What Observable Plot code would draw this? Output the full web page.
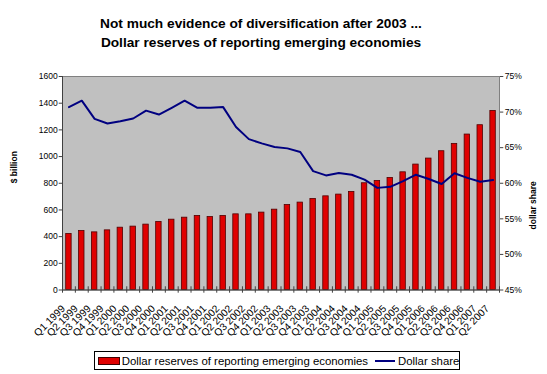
<!DOCTYPE html>
<html><head><meta charset="utf-8">
<script src="https://cdn.jsdelivr.net/npm/d3@7"></script>
<script src="https://cdn.jsdelivr.net/npm/@observablehq/plot@0.6"></script>
<style>
body{margin:0;background:#fff;font-family:"Liberation Sans",Arial,sans-serif;}
#wrap{position:relative;width:547px;height:374px;overflow:hidden;background:#fff}
#wrap svg{position:absolute;left:0;top:0}
.title{position:absolute;left:0;width:522px;top:14px;text-align:center;font-weight:bold;font-size:13.7px;line-height:19px;color:#000;white-space:nowrap}
#legend{position:absolute;left:94px;top:351px;width:364px;height:17px;border:1px solid #000;background:#fff}
.lg{position:absolute;font-size:11.4px;line-height:13px;top:2.85px;white-space:nowrap;color:#000}
.sw{position:absolute;left:3.3px;top:4.7px;width:20px;height:6px;background:#e00000;border:0.5px solid #400000}
.ln{position:absolute;left:280px;top:8px;width:20px;height:2px;background:#000080}
</style></head>
<body>
<div id="wrap">
  <div class="title">Not much evidence of diversification after 2003 ...<br>Dollar reserves of reporting emerging economies</div>
  <div id="legend">
    <div class="sw"></div>
    <div class="lg" style="left:26.7px">Dollar reserves of reporting emerging economies</div>
    <div class="ln"></div>
    <div class="lg" style="left:303px">Dollar share</div>
  </div>
</div>
<script>
const quarters = ["Q1 1999","Q2 1999","Q3 1999","Q4 1999","Q1 2000","Q2 2000","Q3 2000","Q4 2000",
  "Q1 2001","Q2 2001","Q3 2001","Q4 2001","Q1 2002","Q2 2002","Q3 2002","Q4 2002",
  "Q1 2003","Q2 2003","Q3 2003","Q4 2003","Q1 2004","Q2 2004","Q3 2004","Q4 2004",
  "Q1 2005","Q2 2005","Q3 2005","Q4 2005","Q1 2006","Q2 2006","Q3 2006","Q4 2006",
  "Q1 2007","Q2 2007"];
const reserves = [420,442,432,447,467,475,490,510,
  527,542,555,547,555,567,567,580,
  602,637,655,682,702,715,735,800,
  817,840,882,940,985,1040,1095,1165,
  1235,1342];
const share = [70.7,71.6,69.05,68.4,68.7,69.1,70.2,69.65,
  70.6,71.6,70.6,70.6,70.7,67.9,66.2,65.6,
  65.1,64.9,64.4,61.7,61.1,61.45,61.2,60.5,
  59.35,59.5,60.3,61.2,60.6,59.9,61.4,60.75,
  60.2,60.45];
const leftTicks = [0,200,400,600,800,1000,1200,1400,1600];
const rightTicks = [45,50,55,60,65,70,75];

const W = 547, H = 374, mT = 76, mB = 84.5, mL = 62, mR = 48;
const bw = (W - mL - mR) / quarters.length;
const data = quarters.map((q, i) => ({q, r: reserves[i], s: share[i]}));
const font = "Liberation Sans, Arial, sans-serif";

const p1 = Plot.plot({
  width: W, height: H, marginTop: mT, marginBottom: mB, marginLeft: mL, marginRight: mR,
  style: {background: "transparent", fontFamily: font, overflow: "visible"},
  x: {type: "band", domain: quarters, padding: 0, round: false, axis: null},
  y: {domain: [0, 1600], axis: null},
  marks: [
    Plot.frame({fill: "#c0c0c0", stroke: "#808080"}),
    Plot.barY(data, {x: "q", y: "r", fill: "#e00000", stroke: "#500000", strokeWidth: 0.8, insetLeft: 3.7, insetRight: 3.7}),
    Plot.ruleX(quarters.slice(0, 1), {x: d => d, dx: -bw / 2, y1: 0, y2: 1600, stroke: "#404040"}),
    Plot.ruleY([0], {stroke: "#404040"}),
    Plot.ruleX(quarters, {x: d => d, dx: -bw / 2, y1: -24, y2: 24, stroke: "#404040"}),
    Plot.ruleX(quarters.slice(-1), {x: d => d, dx: bw / 2, y1: -24, y2: 24, stroke: "#404040"}),
    Plot.axisY(leftTicks, {anchor: "left", tickSize: 3.3, tickPadding: 1.5, tickFormat: d => String(d), fontSize: 8.5, label: null, stroke: "#404040"}),
    Plot.text(quarters, {x: d => d, y: 0, text: d => d, rotate: -45, textAnchor: "end", lineAnchor: "middle", dx: -5.5, dy: 17, fontSize: 10.2, fill: "#000"}),
    Plot.text(["$ billion"], {frameAnchor: "left", text: d => d, dx: -48, rotate: -90, fontWeight: "bold", fontSize: 8.5, fill: "#000"})
  ]
});

const p2 = Plot.plot({
  width: W, height: H, marginTop: mT, marginBottom: mB, marginLeft: mL, marginRight: mR,
  style: {background: "transparent", fontFamily: font, overflow: "visible"},
  x: {type: "band", domain: quarters, padding: 0, round: false, axis: null},
  y: {domain: [45, 75], axis: null},
  marks: [
    Plot.lineY(data, {x: "q", y: "s", stroke: "#000080", strokeWidth: 2}),
    Plot.axisY(rightTicks, {anchor: "right", tickSize: 3.3, tickPadding: 2, tickFormat: d => d + "%", fontSize: 8.5, label: null, stroke: "#404040"}),
    Plot.text(["dollar share"], {frameAnchor: "right", text: d => d, dx: 34, dy: -2, rotate: -90, fontWeight: "bold", fontSize: 8.5, fill: "#000"})
  ]
});

const wrap = document.getElementById("wrap");
wrap.insertBefore(p1, wrap.firstChild);
wrap.insertBefore(p2, p1.nextSibling);
</script>
</body></html>
